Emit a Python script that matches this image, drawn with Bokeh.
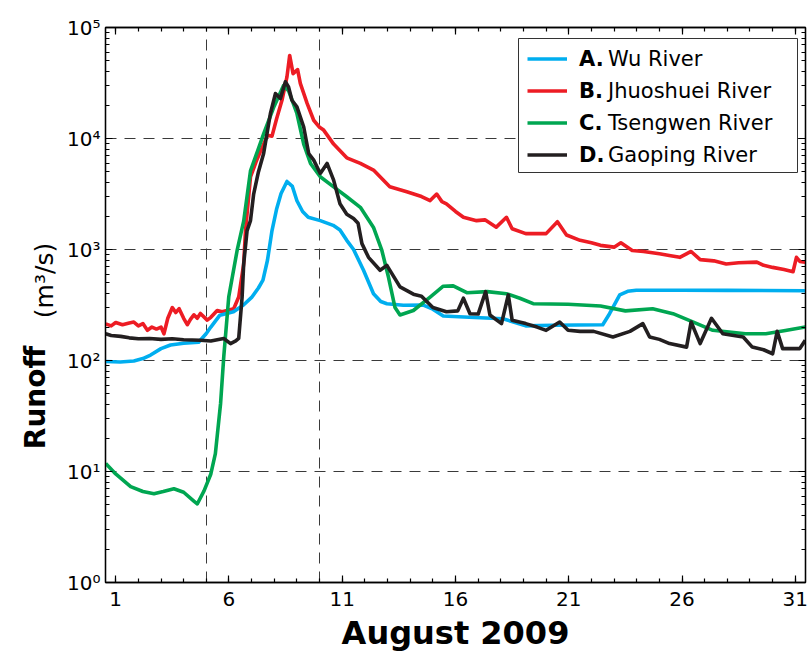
import math
from bokeh.plotting import figure
from bokeh.layouts import row
from bokeh.models import (Range1d, FixedTicker, LinearAxis, LogAxis, Legend, LegendItem,
                          BoxAnnotation, CustomJSTickFormatter)
from bokeh.core.properties import value
from bokeh.embed import file_html
from bokeh.resources import INLINE

# ---------------- data ----------------
wu_day = [0.56, 1.2, 1.8, 2.2, 2.54, 3.0, 3.42, 4.0, 4.66, 5.0, 5.2, 5.6, 6.2, 6.64, 7.0, 7.3,
          7.5, 7.7, 7.9, 8.1, 8.3, 8.56, 8.8, 9.0, 9.25, 9.5, 10.03, 10.6, 10.9, 11.2, 11.5,
          11.94, 12.38, 12.7, 12.97, 13.7, 14.58, 15.0, 15.46, 16.6, 18.1, 19.1, 20.3, 22.5,
          22.8, 23.25, 23.6, 23.98, 26.0, 28.0, 31.44]
wu_q = [98, 97, 99, 104, 112, 128, 138, 143, 146, 175, 200, 256, 275, 316, 370, 450,
        530, 800, 1480, 2300, 3200, 4100, 3700, 2750, 2200, 1950, 1820, 1650, 1500, 1210, 1000,
        650, 400, 340, 325, 315, 316, 290, 252, 245, 238, 205, 208, 210,
        264, 390, 420, 430, 430, 428, 425]

jh_day = [0.56, 0.8, 1.0, 1.3, 1.6, 1.8, 2.0, 2.2, 2.4, 2.6, 2.8, 3.0, 3.13, 3.3, 3.5, 3.65,
          3.8, 4.0, 4.16, 4.3, 4.45, 4.6, 4.74, 5.04, 5.2, 5.48, 5.7, 5.92, 6.21, 6.43, 6.65,
          6.73, 6.95, 7.2, 7.53, 7.7, 7.9, 8.1, 8.34, 8.56, 8.68, 8.83, 9.03, 9.15, 9.45, 9.74,
          10.0, 10.18, 10.62, 11.2, 11.8, 12.38, 13.1, 13.85, 14.5, 14.88, 15.17, 15.4, 15.6,
          16.0, 16.35, 16.93, 17.3, 17.8, 18.25, 18.5, 19.1, 20.0, 20.5, 20.9, 21.5, 22.0,
          22.4, 23.0, 23.3, 23.8, 24.3, 25.0, 25.5, 25.9, 26.4, 26.8, 27.4, 27.95, 28.5, 29.3,
          29.6, 30.0, 30.5, 30.9, 31.05, 31.2, 31.44]
jh_q = [214, 205, 220, 210, 218, 222, 205, 215, 187, 200, 192, 200, 174, 240, 300, 270,
        293, 240, 210, 235, 258, 240, 265, 231, 245, 282, 275, 282, 293, 373, 740,
        1480, 4500, 6200, 8900, 10700, 10500, 15000, 22100, 35900, 56000, 38400, 41800, 31400, 20700, 14600,
        12600, 11900, 8900, 6700, 5960, 5190, 3670, 3310, 3000, 2760, 3160, 2700, 2580,
        2200, 1950, 1820, 1850, 1590, 1950, 1540, 1390, 1390, 1780, 1350, 1210, 1150,
        1090, 1050, 1150, 980, 960, 915, 880, 850, 960, 810, 790, 740, 760, 770,
        720, 690, 660, 630, 850, 780, 770]

ts_day = [0.56, 1.0, 1.66, 2.2, 2.69, 3.1, 3.57, 4.0, 4.45, 4.6, 4.9, 5.2, 5.4, 5.63, 5.77,
          5.99, 6.36, 6.65, 6.95, 7.53, 7.97, 8.41, 8.63, 9.0, 9.3, 9.6, 10.03, 10.62, 11.2,
          11.8, 12.38, 12.75, 13.04, 13.33, 13.55, 14.14, 14.88, 15.46, 15.9, 16.5, 17.4,
          18.25, 18.84, 19.43, 20.97, 22.4, 23.5, 24.7, 25.6, 26.5, 27.36, 28.8, 29.7, 30.5, 31.44]
ts_q = [11.8, 9.5, 7.3, 6.6, 6.3, 6.6, 7.0, 6.5, 5.4, 5.1, 6.7, 9.5, 14.5, 41, 108,
        373, 980, 1800, 5100, 11000, 19000, 30000, 27000, 16800, 8900, 5960, 4520, 3670, 2990,
        2400, 1580, 980, 565, 300, 257, 282, 373, 467, 470, 408, 417,
        400, 364, 325, 321, 310, 280, 293, 264, 222, 187, 174, 174, 185, 200]

gp_day = [0.56, 0.8, 1.22, 1.6, 2.0, 2.5, 3.0, 3.5, 4.0, 4.74, 5.2, 5.77, 6.07, 6.3, 6.43,
          6.58, 6.65, 6.8, 6.95, 7.09, 7.3, 7.53, 7.83, 8.05, 8.27, 8.49, 8.63, 8.78, 9.0,
          9.3, 9.52, 9.74, 10.03, 10.33, 10.62, 10.9, 11.2, 11.5, 11.7, 11.87, 12.16, 12.67,
          12.97, 13.55, 14.14, 14.5, 15.0, 15.6, 16.1, 16.35, 16.64, 17.0, 17.33, 17.52,
          18.03, 18.33, 18.5, 19.1, 19.6, 20.0, 20.6, 20.97, 21.5, 22.1, 22.95, 23.7, 24.27,
          24.57, 25.0, 25.45, 26.2, 26.4, 26.8, 27.3, 27.8, 28.7, 29.1, 29.6, 30.0, 30.2,
          30.44, 31.2, 31.44]
gp_q = [174, 168, 165, 160, 157, 158, 155, 157, 154, 152, 150, 158, 142, 150, 158,
        373, 740, 1480, 1820, 3160, 5000, 7330, 16800, 25400, 22900, 32400, 29200, 22100, 19300,
        12700, 7330, 6380, 4840, 5960, 4220, 2580, 2080, 1900, 1720, 1130, 850, 650,
        720, 460, 396, 380, 300, 275, 280, 364, 264, 262, 417, 257,
        215, 390, 231, 215, 200, 187, 222, 187, 183, 183, 163, 183, 215,
        163, 155, 142, 132, 222, 142, 240, 174, 163, 132, 125, 115, 183,
        128, 128, 152]

series_names = ["Wu River", "Jhuoshuei River", "Tsengwen River", "Gaoping River"]
series_keys = ["A.", "B.", "C.", "D."]
y_title_main = "Runoff"
y_title_unit = "(m\u00b3/s)"
x_title = "August 2009"

x_ticks = [1, 6, 11, 16, 21, 26, 31]
x_minor_ticks = list(range(1, 32))
y_ticks = [1, 10, 100, 1000, 10000, 100000]
y_tick_labels = ["10\u2070", "10\u00b9", "10\u00b2", "10\u00b3", "10\u2074", "10\u2075"]
y_minor_ticks = [k * 10 ** d for d in range(0, 5) for k in range(2, 10)]
event_days = [5, 10]

# ---------------- layout constants (pixels) ----------------
TOTAL_W, TOTAL_H = 809, 654
SIDE_W = 60                       # narrow strip holding the y title
X0, X1 = 0.55, 31.45
FRAME_L, FRAME_T, FRAME_W, FRAME_H = 105, 27, 700, 555
FRAME_B = FRAME_T + FRAME_H
FONT = "DejaVu Sans"

# ---------------- y-title strip: same vertical frame as the main plot ----------------
side = figure(width=SIDE_W, height=TOTAL_H, title=None,
              x_range=Range1d(0, SIDE_W), y_range=Range1d(0, FRAME_H),
              x_axis_location=None, y_axis_location=None, output_backend="svg",
              toolbar_location=None, min_border=0,
              min_border_left=0, min_border_right=0,
              min_border_top=FRAME_T, min_border_bottom=TOTAL_H - FRAME_B,
              outline_line_color=None,
              background_fill_color="white", border_fill_color="white")
side.xgrid.visible = False
side.ygrid.visible = False
side.text(x=[35], y=[FRAME_B - 397], text=[y_title_main], angle=math.pi / 2,
          text_align="center", text_baseline="middle", text_font=value(FONT),
          text_font_size="28px", text_font_style="bold", text_color="black")
side.text(x=[44], y=[FRAME_B - 280], text=[y_title_unit], angle=math.pi / 2,
          text_align="center", text_baseline="middle", text_font=value(FONT),
          text_font_size="25px", text_color="black")

# ---------------- main plot ----------------
p = figure(width=TOTAL_W - SIDE_W, height=TOTAL_H, x_range=Range1d(X0, X1), y_range=Range1d(1, 1e5),
           y_axis_type="log", output_backend="svg", toolbar_location=None,
           min_border_left=FRAME_L - SIDE_W, min_border_right=4, min_border_top=FRAME_T,
           min_border_bottom=TOTAL_H - FRAME_B,
           background_fill_color="white", border_fill_color="white")
p.outline_line_color = "black"
p.outline_line_width = 1.3


def style_axis(ax, show_labels):
    ax.axis_line_color = "black"
    ax.axis_line_width = 1.3
    ax.major_tick_line_color = "black"
    ax.minor_tick_line_color = "black"
    ax.major_tick_line_width = 1.2
    ax.minor_tick_line_width = 1.2
    ax.major_tick_in = 7
    ax.major_tick_out = 0
    ax.minor_tick_in = 4
    ax.minor_tick_out = 0
    ax.major_label_text_font = FONT
    ax.major_label_text_color = "black"
    ax.major_label_text_font_size = "20px"
    if show_labels:
        ax.major_label_standoff = 9
    else:
        ax.formatter = CustomJSTickFormatter(code="return ''")
        ax.major_label_standoff = 0


xt = FixedTicker(ticks=x_ticks, minor_ticks=x_minor_ticks)
yt = FixedTicker(ticks=y_ticks, minor_ticks=y_minor_ticks)

xa = p.xaxis[0]
xa.ticker = xt
style_axis(xa, True)
xa.axis_label = x_title
xa.axis_label_text_font = FONT
xa.axis_label_text_font_style = "bold"
xa.axis_label_text_font_size = "32px"
xa.axis_label_text_color = "black"
xa.axis_label_standoff = 5

ya = p.yaxis[0]
ya.ticker = yt
style_axis(ya, True)
ya.major_label_standoff = 5
ya.major_label_overrides = {t: lab for t, lab in zip(y_ticks, y_tick_labels)}

top_ax = LinearAxis(ticker=xt)
style_axis(top_ax, False)
p.add_layout(top_ax, "above")
right_ax = LogAxis(ticker=yt)
style_axis(right_ax, False)
p.add_layout(right_ax, "right")

p.xgrid.ticker = FixedTicker(ticks=event_days)
p.ygrid.ticker = FixedTicker(ticks=y_ticks[1:-1])
for g in (p.xgrid[0], p.ygrid[0]):
    g.grid_line_color = "#3a3a3a"
    g.grid_line_width = 1
    g.grid_line_dash = "11 8"
    g.minor_grid_line_color = None

# ---------------- series ----------------
colors = ["#00AEEF", "#ED1C24", "#00A651", "#231F20"]
r_jh = p.line(jh_day, jh_q, line_color=colors[1], line_width=3.6, line_join="round")
r_wu = p.line(wu_day, wu_q, line_color=colors[0], line_width=3.6, line_join="round")
r_ts = p.line(ts_day, ts_q, line_color=colors[2], line_width=3.6, line_join="round")
r_gp = p.line(gp_day, gp_q, line_color=colors[3], line_width=3.6, line_join="round")
renderers = [r_wu, r_jh, r_ts, r_gp]


# ---------------- legend ----------------
def px_to_x(px):
    return X0 + (px - FRAME_L) * (X1 - X0) / FRAME_W


def py_to_y(py):
    return 10 ** (5 - (py - FRAME_T) / (FRAME_H / 5))


p.add_layout(BoxAnnotation(left=px_to_x(518), right=px_to_x(797), top=py_to_y(38), bottom=py_to_y(172),
                           fill_color="white", fill_alpha=1.0, line_color="#333333", line_width=1,
                           line_alpha=1.0))

# invisible helper renderer, used only for the legend column with the plain names
dummy = p.line(wu_day, wu_q, line_alpha=0)

common = dict(location=(413, 406), padding=9, spacing=7,
              label_height=25, glyph_height=25,
              label_text_font=FONT, label_text_font_size="21px", label_text_color="black",
              margin=0, border_line_alpha=0, background_fill_alpha=0)
legend_names = Legend(items=[LegendItem(label=n, renderers=[dummy]) for n in series_names],
                      glyph_width=81, label_standoff=0, **common)
legend_keys = Legend(items=[LegendItem(label=k, renderers=[r]) for k, r in zip(series_keys, renderers)],
                     glyph_width=40, label_standoff=12, label_text_font_style="bold", **common)
p.add_layout(legend_names)
p.add_layout(legend_keys)

layout = row(side, p)
open("out.html", "w").write(file_html(layout, INLINE))
